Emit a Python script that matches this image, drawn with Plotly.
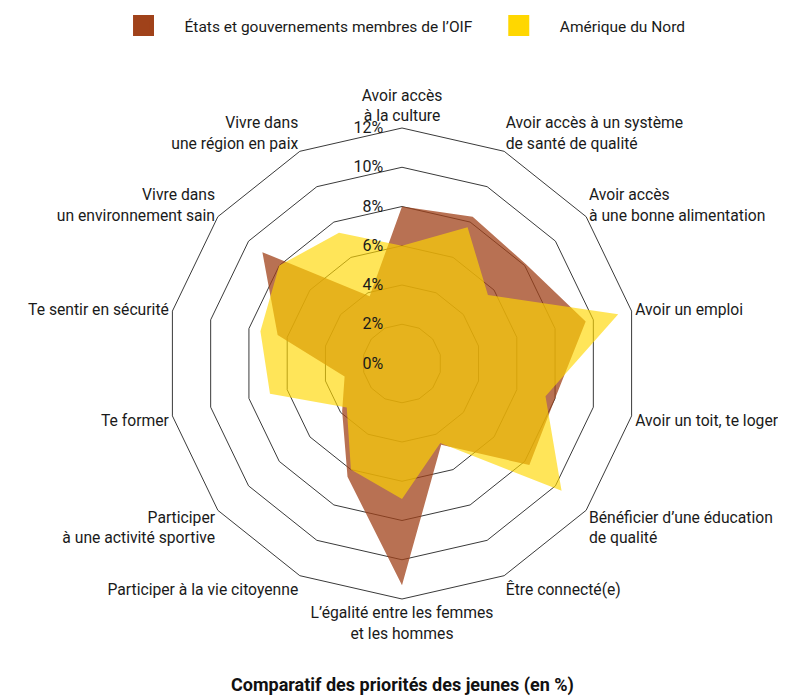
import plotly.graph_objects as go

categories = [
    "Avoir accès<br>à la culture",
    "Avoir accès à un système<br>de santé de qualité",
    "Avoir accès<br>à une bonne alimentation",
    "Avoir un emploi",
    "Avoir un toit, te loger",
    "Bénéficier d’une éducation<br>de qualité",
    "Être connecté(e)",
    "L’égalité entre les femmes<br>et les hommes",
    "Participer à la vie citoyenne",
    "Participer<br>à une activité sportive",
    "Te former",
    "Te sentir en sécurité",
    "Vivre dans<br>un environnement sain",
    "Vivre dans<br>une région en paix",
]
oif_values = [8.0, 8.3, 8.1, 9.6, 8.0, 8.3, 4.6, 11.3, 6.4, 3.9, 3.0, 6.5, 9.1, 3.8]
na_values = [6.0, 7.7, 5.6, 11.3, 7.5, 10.4, 4.5, 6.9, 6.0, 3.6, 6.9, 7.4, 8.0, 7.4]
radial_ticks = [0, 2, 4, 6, 8, 10, 12]
radial_labels = ["0%", "2%", "4%", "6%", "8%", "10%", "12%"]

series_names = ["États et gouvernements membres de l’OIF", "Amérique du Nord"]
legend_colors = ["#A0421A", "#FFD700"]
fill_colors = ["rgba(160,66,26,0.75)", "rgba(255,215,0,0.65)"]

FONT = "Roboto, sans-serif"
W, H = 778, 689  # page body has an 8px margin
CX, CY, R = 394, 355.5, 235.5
PAD = "\u00a0" * 4

fig = go.Figure()
for vals, name, fc in zip([oif_values, na_values], series_names, fill_colors):
    fig.add_trace(go.Scatterpolar(
        r=vals + vals[:1], theta=categories + categories[:1],
        mode="lines", fill="toself", fillcolor=fc,
        line=dict(width=0, color=fc), name=name, showlegend=False,
        hoverinfo="skip",
    ))
for name, c in zip(series_names, legend_colors):
    fig.add_trace(go.Scatterpolar(
        r=[None], theta=[categories[0]], mode="markers", name=name,
        marker=dict(symbol="square", size=16, color=c,
                    line=dict(width=5, color=c)),
        showlegend=True,
    ))

fig.update_layout(
    width=W, height=H,
    margin=dict(l=0, r=0, t=0, b=0),
    paper_bgcolor="white",
    font=dict(family=FONT, size=15.7, color="#1a1a1a"),
    polar=dict(
        domain=dict(x=[(CX - R) / W, (CX + R) / W],
                    y=[1 - (CY + R) / H, 1 - (CY - R) / H]),
        gridshape="linear",
        bgcolor="white",
        radialaxis=dict(
            range=[0, 12], tickvals=radial_ticks,
            ticktext=[t + PAD for t in radial_labels],
            showline=False, ticks="", angle=90, side="counterclockwise",
            tickangle=90,
            gridcolor="#3a3a3a", gridwidth=1,
            tickfont=dict(family=FONT, size=16, color="#1a1a1a"),
        ),
        angularaxis=dict(
            rotation=90, direction="clockwise", showgrid=False,
            showline=True, linecolor="#3a3a3a", linewidth=1, ticks="",
            tickfont=dict(family=FONT, size=15.7, color="#1a1a1a"),
        ),
    ),
    legend=dict(
        orientation="h", x=0.4994, xanchor="center", y=1 - 18 / H,
        yanchor="middle", font=dict(family=FONT, size=15.5, color="#1a1a1a"),
        itemwidth=72, itemsizing="trace",
    ),
    annotations=[dict(
        text="<b>Comparatif des priorités des jeunes (en %)</b>",
        x=CX / W, y=0, xref="paper", yref="paper",
        xanchor="center", yanchor="bottom", showarrow=False, borderpad=0,
        font=dict(family=FONT, size=18, color="#111111"),
    )],
)

fig.write_html("out.html")
